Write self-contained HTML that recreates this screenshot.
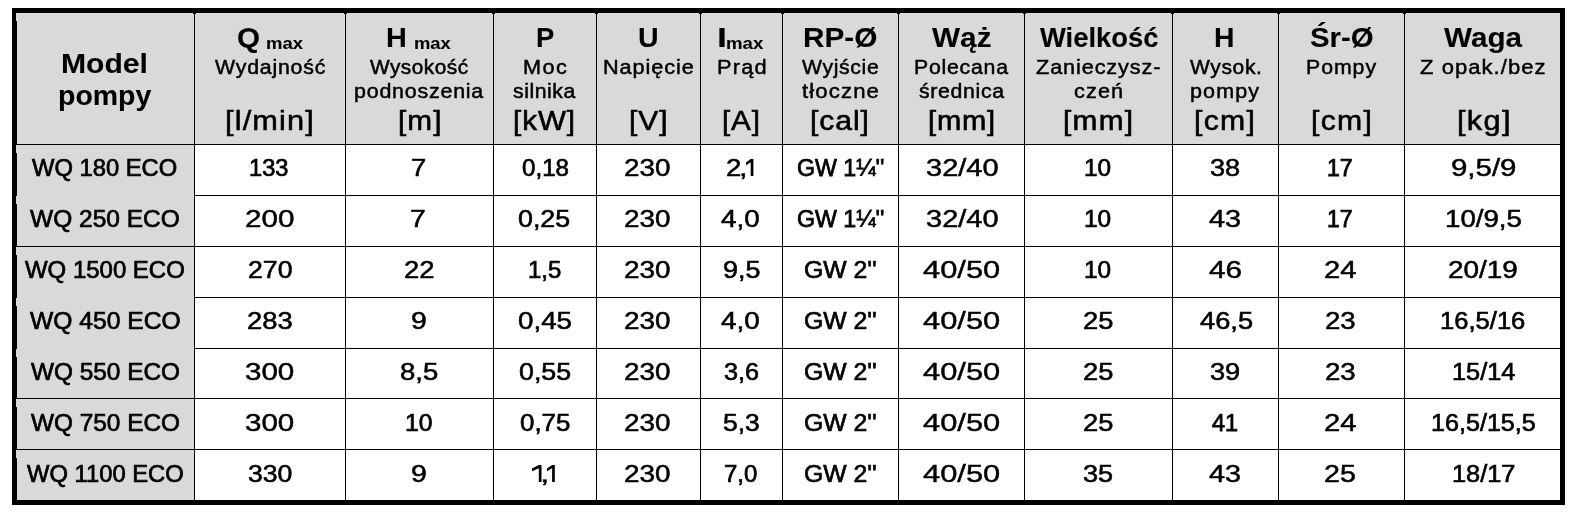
<!DOCTYPE html>
<html><head><meta charset="utf-8"><style>
html,body{margin:0;padding:0;background:#fff;width:1593px;height:517px;overflow:hidden;position:relative}
.r{position:absolute}

.t{position:absolute;white-space:nowrap;font-family:"Liberation Sans",sans-serif;color:#000;line-height:40px;transform-origin:0 0}
.hb{font-weight:bold;font-size:27px}
.hm{font-weight:bold;font-size:17px}
.hr{font-weight:normal;font-size:20px}
.hu{font-weight:normal;font-size:28px}
.b{font-weight:normal;font-size:23px}
.b{-webkit-text-stroke:0.75px #000}
.hu{-webkit-text-stroke:0.7px #000}
.hr{-webkit-text-stroke:0.55px #000}
.hb,.hm{-webkit-text-stroke:0.1px #000}
.t{will-change:transform}

</style></head><body>
<div class="r" style="left:16px;top:13px;width:1544px;height:131px;background:#d9d9d9"></div>
<div class="r" style="left:16px;top:145px;width:178px;height:355px;background:#d9d9d9"></div>
<div class="r" style="left:12px;top:8px;width:1553px;height:5px;background:#000"></div>
<div class="r" style="left:12px;top:500px;width:1553px;height:5px;background:#000"></div>
<div class="r" style="left:12px;top:8px;width:5px;height:497px;background:#000"></div>
<div class="r" style="left:16px;top:13px;width:1px;height:8px;background:#d9d9d9"></div>
<div class="r" style="left:16px;top:145px;width:1px;height:8px;background:#d9d9d9"></div>
<div class="r" style="left:16px;top:196px;width:1px;height:8px;background:#d9d9d9"></div>
<div class="r" style="left:16px;top:247px;width:1px;height:8px;background:#d9d9d9"></div>
<div class="r" style="left:16px;top:298px;width:1px;height:8px;background:#d9d9d9"></div>
<div class="r" style="left:16px;top:349px;width:1px;height:8px;background:#d9d9d9"></div>
<div class="r" style="left:16px;top:399px;width:1px;height:8px;background:#d9d9d9"></div>
<div class="r" style="left:16px;top:450px;width:1px;height:8px;background:#d9d9d9"></div>
<div class="r" style="left:1560px;top:8px;width:5px;height:497px;background:#000"></div>
<div class="r" style="left:194px;top:13px;width:1px;height:487px;background:#000"></div>
<div class="r" style="left:193px;top:13px;width:3px;height:1px;background:#000"></div>
<div class="r" style="left:345px;top:13px;width:1px;height:487px;background:#000"></div>
<div class="r" style="left:344px;top:13px;width:3px;height:1px;background:#000"></div>
<div class="r" style="left:493px;top:13px;width:1px;height:487px;background:#000"></div>
<div class="r" style="left:492px;top:13px;width:3px;height:1px;background:#000"></div>
<div class="r" style="left:596px;top:13px;width:1px;height:487px;background:#000"></div>
<div class="r" style="left:595px;top:13px;width:3px;height:1px;background:#000"></div>
<div class="r" style="left:700px;top:13px;width:1px;height:487px;background:#000"></div>
<div class="r" style="left:699px;top:13px;width:3px;height:1px;background:#000"></div>
<div class="r" style="left:782px;top:13px;width:1px;height:487px;background:#000"></div>
<div class="r" style="left:781px;top:13px;width:3px;height:1px;background:#000"></div>
<div class="r" style="left:898px;top:13px;width:1px;height:487px;background:#000"></div>
<div class="r" style="left:897px;top:13px;width:3px;height:1px;background:#000"></div>
<div class="r" style="left:1024px;top:13px;width:1px;height:487px;background:#000"></div>
<div class="r" style="left:1023px;top:13px;width:3px;height:1px;background:#000"></div>
<div class="r" style="left:1172px;top:13px;width:1px;height:487px;background:#000"></div>
<div class="r" style="left:1171px;top:13px;width:3px;height:1px;background:#000"></div>
<div class="r" style="left:1278px;top:13px;width:1px;height:487px;background:#000"></div>
<div class="r" style="left:1277px;top:13px;width:3px;height:1px;background:#000"></div>
<div class="r" style="left:1404px;top:13px;width:1px;height:487px;background:#000"></div>
<div class="r" style="left:1403px;top:13px;width:3px;height:1px;background:#000"></div>
<div class="r" style="left:16px;top:144px;width:1544px;height:1px;background:#000"></div>
<div class="r" style="left:195px;top:195px;width:1365px;height:1px;background:#000"></div>
<div class="r" style="left:16px;top:246px;width:1544px;height:1px;background:#000"></div>
<div class="r" style="left:195px;top:297px;width:1365px;height:1px;background:#000"></div>
<div class="r" style="left:195px;top:348px;width:1365px;height:1px;background:#000"></div>
<div class="r" style="left:16px;top:398px;width:1544px;height:1px;background:#000"></div>
<div class="r" style="left:16px;top:449px;width:1544px;height:1px;background:#000"></div>
<div class="t hb" style="left:61.17px;top:43.70px;transform:scaleX(1.1149);-webkit-text-stroke-width:0.08px">Model</div>
<div class="t hb" style="left:58.29px;top:75.50px;transform:scaleX(1.0547);-webkit-text-stroke-width:0.08px">pompy</div>
<div class="t hb" style="left:237.00px;top:18.40px;transform:scaleX(1.1000);-webkit-text-stroke-width:0.08px">Q</div>
<div class="t hm" style="left:265.71px;top:23.80px;transform:scaleX(1.0879);-webkit-text-stroke-width:0.08px">max</div>
<div class="t hr" style="left:215.40px;top:46.60px;letter-spacing:0.74px;transform:scaleX(1.0649);-webkit-text-stroke-width:0.48px">Wydajność</div>
<div class="t hu" style="left:225.21px;top:100.60px;letter-spacing:1.04px;transform:scaleX(1.0965);-webkit-text-stroke-width:0.56px">[l/min]</div>
<div class="t hb" style="left:386.16px;top:18.40px;transform:scaleX(1.0687);-webkit-text-stroke-width:0.08px">H</div>
<div class="t hm" style="left:413.92px;top:23.80px;transform:scaleX(1.0818);-webkit-text-stroke-width:0.08px">max</div>
<div class="t hr" style="left:370.20px;top:46.60px;letter-spacing:0.49px;transform:scaleX(1.0390);-webkit-text-stroke-width:0.51px">Wysokość</div>
<div class="t hr" style="left:353.53px;top:71.20px;letter-spacing:0.74px;transform:scaleX(1.0699);-webkit-text-stroke-width:0.47px">podnoszenia</div>
<div class="t hu" style="left:397.68px;top:100.60px;letter-spacing:1.01px;transform:scaleX(1.0614);-webkit-text-stroke-width:0.61px">[m]</div>
<div class="t hb" style="left:535.87px;top:18.40px;transform:scaleX(1.0133)">P</div>
<div class="t hr" style="left:522.62px;top:46.60px;letter-spacing:1.38px;transform:scaleX(1.0833);-webkit-text-stroke-width:0.46px">Moc</div>
<div class="t hr" style="left:512.90px;top:71.20px;letter-spacing:0.53px;transform:scaleX(1.0607);-webkit-text-stroke-width:0.48px">silnika</div>
<div class="t hu" style="left:513.29px;top:100.60px;letter-spacing:0.92px;transform:scaleX(1.0558);-webkit-text-stroke-width:0.62px">[kW]</div>
<div class="t hb" style="left:638.49px;top:18.40px;transform:scaleX(1.0562);-webkit-text-stroke-width:0.08px">U</div>
<div class="t hr" style="left:602.82px;top:46.60px;letter-spacing:0.84px;transform:scaleX(1.0842);-webkit-text-stroke-width:0.46px">Napięcie</div>
<div class="t hu" style="left:628.96px;top:100.60px;letter-spacing:0.98px;transform:scaleX(1.0677);-webkit-text-stroke-width:0.60px">[V]</div>
<div class="t hb" style="left:716.95px;top:18.40px;transform:scaleX(1.3250);-webkit-text-stroke-width:0.08px">I</div>
<div class="t hm" style="left:726.30px;top:23.80px;transform:scaleX(1.0970);-webkit-text-stroke-width:0.08px">max</div>
<div class="t hr" style="left:716.71px;top:46.60px;letter-spacing:1.09px;transform:scaleX(1.0888);-webkit-text-stroke-width:0.45px">Prąd</div>
<div class="t hu" style="left:721.99px;top:100.60px;letter-spacing:0.83px;transform:scaleX(1.0565);-webkit-text-stroke-width:0.61px">[A]</div>
<div class="t hb" style="left:802.90px;top:18.40px;transform:scaleX(1.1016);-webkit-text-stroke-width:0.08px">RP-Ø</div>
<div class="t hr" style="left:802.10px;top:46.60px;letter-spacing:0.63px;transform:scaleX(1.0588);-webkit-text-stroke-width:0.48px">Wyjście</div>
<div class="t hr" style="left:801.60px;top:71.20px;letter-spacing:1.02px;transform:scaleX(1.1071);-webkit-text-stroke-width:0.44px">tłoczne</div>
<div class="t hu" style="left:810.05px;top:100.60px;letter-spacing:0.85px;transform:scaleX(1.0760);-webkit-text-stroke-width:0.59px">[cal]</div>
<div class="t hb" style="left:932.40px;top:18.40px;transform:scaleX(1.1019);-webkit-text-stroke-width:0.08px">Wąż</div>
<div class="t hr" style="left:913.74px;top:46.60px;letter-spacing:0.71px;transform:scaleX(1.0639);-webkit-text-stroke-width:0.48px">Polecana</div>
<div class="t hr" style="left:919.10px;top:71.20px;letter-spacing:0.64px;transform:scaleX(1.0625);-webkit-text-stroke-width:0.48px">średnica</div>
<div class="t hu" style="left:927.82px;top:100.60px;letter-spacing:0.78px;transform:scaleX(1.0415);-webkit-text-stroke-width:0.64px">[mm]</div>
<div class="t hb" style="left:1039.60px;top:18.40px;transform:scaleX(1.0147)">Wielkość</div>
<div class="t hr" style="left:1036.10px;top:46.60px;letter-spacing:0.82px;transform:scaleX(1.0835);-webkit-text-stroke-width:0.46px">Zanieczysz-</div>
<div class="t hr" style="left:1074.30px;top:71.20px;letter-spacing:1.05px;transform:scaleX(1.0829);-webkit-text-stroke-width:0.46px">czeń</div>
<div class="t hu" style="left:1063.37px;top:100.60px;letter-spacing:1.19px;transform:scaleX(1.0644);-webkit-text-stroke-width:0.60px">[mm]</div>
<div class="t hb" style="left:1214.30px;top:18.40px;transform:scaleX(1.0500);-webkit-text-stroke-width:0.08px">H</div>
<div class="t hr" style="left:1190.00px;top:46.60px;letter-spacing:0.61px;transform:scaleX(1.0500);-webkit-text-stroke-width:0.49px">Wysok.</div>
<div class="t hr" style="left:1190.12px;top:71.20px;letter-spacing:1.03px;transform:scaleX(1.0754);-webkit-text-stroke-width:0.47px">pompy</div>
<div class="t hu" style="left:1194.04px;top:100.60px;letter-spacing:1.18px;transform:scaleX(1.0776);-webkit-text-stroke-width:0.58px">[cm]</div>
<div class="t hb" style="left:1309.61px;top:18.40px;transform:scaleX(1.0875);-webkit-text-stroke-width:0.08px">Śr-Ø</div>
<div class="t hr" style="left:1305.84px;top:46.60px;letter-spacing:0.91px;transform:scaleX(1.0631);-webkit-text-stroke-width:0.48px">Pompy</div>
<div class="t hu" style="left:1311.04px;top:100.60px;letter-spacing:1.18px;transform:scaleX(1.0776);-webkit-text-stroke-width:0.58px">[cm]</div>
<div class="t hb" style="left:1444.00px;top:18.40px;transform:scaleX(1.0986);-webkit-text-stroke-width:0.08px">Waga</div>
<div class="t hr" style="left:1420.10px;top:46.60px;letter-spacing:0.95px;transform:scaleX(1.1010);-webkit-text-stroke-width:0.44px">Z opak./bez</div>
<div class="t hu" style="left:1456.90px;top:100.60px;letter-spacing:1.21px;transform:scaleX(1.0976);-webkit-text-stroke-width:0.56px">[kg]</div>
<div class="t b" style="left:31.80px;top:148.00px;transform:scaleX(1.0329);-webkit-text-stroke-width:0.71px">WQ 180 ECO</div>
<div class="t b" style="left:249.07px;top:148.00px;transform:scaleX(1.0270);-webkit-text-stroke-width:0.71px">133</div>
<div class="t b" style="left:411.21px;top:148.00px;transform:scaleX(1.1909);-webkit-text-stroke-width:0.53px">7</div>
<div class="t b" style="left:521.50px;top:148.00px;transform:scaleX(1.0500);-webkit-text-stroke-width:0.68px">0,18</div>
<div class="t b" style="left:624.39px;top:148.00px;transform:scaleX(1.2108);-webkit-text-stroke-width:0.51px">230</div>
<div class="t b" style="left:725.60px;top:148.00px;transform:scaleX(1.2000);-webkit-text-stroke-width:0.52px">2</div>
<div class="t b" style="left:739.33px;top:148.00px;transform:scaleX(1.3333);-webkit-text-stroke-width:0.41px">,</div>
<svg class="r" style="left:746.40px;top:159.10px" width="7.40" height="17.0" viewBox="0 0 7.40 17.0"><polygon points="0,3.6 4.70,0 7.40,0 7.40,17.0 4.70,17.0 4.70,3.2 0,6.2" fill="#000"/></svg>
<div class="t b" style="left:796.69px;top:148.00px;transform:scaleX(1.0082)">GW 1¼''</div>
<div class="t b" style="left:925.60px;top:148.00px;transform:scaleX(1.2614);-webkit-text-stroke-width:0.47px">32/40</div>
<div class="t b" style="left:1083.94px;top:148.00px;transform:scaleX(1.0583);-webkit-text-stroke-width:0.67px">10</div>
<div class="t b" style="left:1209.80px;top:148.00px;transform:scaleX(1.1800);-webkit-text-stroke-width:0.54px">38</div>
<div class="t b" style="left:1327.41px;top:148.00px;letter-spacing:0.00px;transform:scaleX(0.9875)">17</div>
<div class="t b" style="left:1450.52px;top:148.00px;transform:scaleX(1.2796);-webkit-text-stroke-width:0.45px">9,5/9</div>
<div class="t b" style="left:29.90px;top:199.03px;transform:scaleX(1.0657);-webkit-text-stroke-width:0.67px">WQ 250 ECO</div>
<div class="t b" style="left:244.91px;top:199.03px;transform:scaleX(1.2892);-webkit-text-stroke-width:0.44px">200</div>
<div class="t b" style="left:409.97px;top:199.03px;transform:scaleX(1.2273);-webkit-text-stroke-width:0.50px">7</div>
<div class="t b" style="left:518.20px;top:199.03px;transform:scaleX(1.1659);-webkit-text-stroke-width:0.55px">0,25</div>
<div class="t b" style="left:624.39px;top:199.03px;transform:scaleX(1.2108);-webkit-text-stroke-width:0.51px">230</div>
<div class="t b" style="left:721.20px;top:199.03px;transform:scaleX(1.2094);-webkit-text-stroke-width:0.51px">4,0</div>
<div class="t b" style="left:796.69px;top:199.03px;transform:scaleX(1.0082)">GW 1¼''</div>
<div class="t b" style="left:925.60px;top:199.03px;transform:scaleX(1.2614);-webkit-text-stroke-width:0.47px">32/40</div>
<div class="t b" style="left:1083.94px;top:199.03px;transform:scaleX(1.0583);-webkit-text-stroke-width:0.67px">10</div>
<div class="t b" style="left:1208.70px;top:199.03px;transform:scaleX(1.2520);-webkit-text-stroke-width:0.47px">43</div>
<div class="t b" style="left:1327.41px;top:199.03px;letter-spacing:0.00px;transform:scaleX(0.9875)">17</div>
<div class="t b" style="left:1444.80px;top:199.03px;transform:scaleX(1.2032);-webkit-text-stroke-width:0.52px">10/9,5</div>
<div class="t b" style="left:25.20px;top:250.06px;transform:scaleX(1.0418);-webkit-text-stroke-width:0.69px">WQ 1500 ECO</div>
<div class="t b" style="left:247.64px;top:250.06px;transform:scaleX(1.1595);-webkit-text-stroke-width:0.56px">270</div>
<div class="t b" style="left:404.11px;top:250.06px;transform:scaleX(1.1917);-webkit-text-stroke-width:0.53px">22</div>
<div class="t b" style="left:528.16px;top:250.06px;transform:scaleX(1.0400);-webkit-text-stroke-width:0.70px">1,5</div>
<div class="t b" style="left:624.39px;top:250.06px;transform:scaleX(1.2108);-webkit-text-stroke-width:0.51px">230</div>
<div class="t b" style="left:722.83px;top:250.06px;transform:scaleX(1.1700);-webkit-text-stroke-width:0.55px">9,5</div>
<div class="t b" style="left:803.82px;top:250.06px;transform:scaleX(1.0758);-webkit-text-stroke-width:0.65px">GW 2''</div>
<div class="t b" style="left:922.90px;top:250.06px;transform:scaleX(1.3421);-webkit-text-stroke-width:0.40px">40/50</div>
<div class="t b" style="left:1083.94px;top:250.06px;transform:scaleX(1.0583);-webkit-text-stroke-width:0.67px">10</div>
<div class="t b" style="left:1208.70px;top:250.06px;transform:scaleX(1.2920);-webkit-text-stroke-width:0.44px">46</div>
<div class="t b" style="left:1323.73px;top:250.06px;transform:scaleX(1.2708);-webkit-text-stroke-width:0.46px">24</div>
<div class="t b" style="left:1448.19px;top:250.06px;transform:scaleX(1.2107);-webkit-text-stroke-width:0.51px">20/19</div>
<div class="t b" style="left:29.90px;top:301.09px;transform:scaleX(1.0714);-webkit-text-stroke-width:0.66px">WQ 450 ECO</div>
<div class="t b" style="left:246.51px;top:301.09px;transform:scaleX(1.1892);-webkit-text-stroke-width:0.53px">283</div>
<div class="t b" style="left:410.66px;top:301.09px;transform:scaleX(1.2364);-webkit-text-stroke-width:0.49px">9</div>
<div class="t b" style="left:518.20px;top:301.09px;transform:scaleX(1.2068);-webkit-text-stroke-width:0.51px">0,45</div>
<div class="t b" style="left:624.39px;top:301.09px;transform:scaleX(1.2108);-webkit-text-stroke-width:0.51px">230</div>
<div class="t b" style="left:721.20px;top:301.09px;transform:scaleX(1.2094);-webkit-text-stroke-width:0.51px">4,0</div>
<div class="t b" style="left:803.82px;top:301.09px;transform:scaleX(1.0758);-webkit-text-stroke-width:0.65px">GW 2''</div>
<div class="t b" style="left:922.90px;top:301.09px;transform:scaleX(1.3421);-webkit-text-stroke-width:0.40px">40/50</div>
<div class="t b" style="left:1083.11px;top:301.09px;transform:scaleX(1.1875);-webkit-text-stroke-width:0.53px">25</div>
<div class="t b" style="left:1199.60px;top:301.09px;transform:scaleX(1.1864);-webkit-text-stroke-width:0.53px">46,5</div>
<div class="t b" style="left:1324.50px;top:301.09px;transform:scaleX(1.2000);-webkit-text-stroke-width:0.52px">23</div>
<div class="t b" style="left:1440.49px;top:301.09px;transform:scaleX(1.1120);-webkit-text-stroke-width:0.61px">16,5/16</div>
<div class="t b" style="left:30.70px;top:352.12px;transform:scaleX(1.0600);-webkit-text-stroke-width:0.67px">WQ 550 ECO</div>
<div class="t b" style="left:245.10px;top:352.12px;transform:scaleX(1.2842);-webkit-text-stroke-width:0.45px">300</div>
<div class="t b" style="left:399.70px;top:352.12px;transform:scaleX(1.1967);-webkit-text-stroke-width:0.52px">8,5</div>
<div class="t b" style="left:518.90px;top:352.12px;transform:scaleX(1.1659);-webkit-text-stroke-width:0.55px">0,55</div>
<div class="t b" style="left:624.39px;top:352.12px;transform:scaleX(1.2108);-webkit-text-stroke-width:0.51px">230</div>
<div class="t b" style="left:724.00px;top:352.12px;transform:scaleX(1.0968);-webkit-text-stroke-width:0.63px">3,6</div>
<div class="t b" style="left:803.82px;top:352.12px;transform:scaleX(1.0758);-webkit-text-stroke-width:0.65px">GW 2''</div>
<div class="t b" style="left:922.90px;top:352.12px;transform:scaleX(1.3421);-webkit-text-stroke-width:0.40px">40/50</div>
<div class="t b" style="left:1083.11px;top:352.12px;transform:scaleX(1.1875);-webkit-text-stroke-width:0.53px">25</div>
<div class="t b" style="left:1209.80px;top:352.12px;transform:scaleX(1.1800);-webkit-text-stroke-width:0.54px">39</div>
<div class="t b" style="left:1324.50px;top:352.12px;transform:scaleX(1.2000);-webkit-text-stroke-width:0.52px">23</div>
<div class="t b" style="left:1451.70px;top:352.12px;transform:scaleX(1.1018);-webkit-text-stroke-width:0.62px">15/14</div>
<div class="t b" style="left:30.70px;top:403.15px;transform:scaleX(1.0600);-webkit-text-stroke-width:0.67px">WQ 750 ECO</div>
<div class="t b" style="left:245.10px;top:403.15px;transform:scaleX(1.2842);-webkit-text-stroke-width:0.45px">300</div>
<div class="t b" style="left:405.33px;top:403.15px;transform:scaleX(1.0708);-webkit-text-stroke-width:0.66px">10</div>
<div class="t b" style="left:520.00px;top:403.15px;transform:scaleX(1.1250);-webkit-text-stroke-width:0.60px">0,75</div>
<div class="t b" style="left:624.39px;top:403.15px;transform:scaleX(1.2108);-webkit-text-stroke-width:0.51px">230</div>
<div class="t b" style="left:722.85px;top:403.15px;transform:scaleX(1.1500);-webkit-text-stroke-width:0.57px">5,3</div>
<div class="t b" style="left:803.82px;top:403.15px;transform:scaleX(1.0758);-webkit-text-stroke-width:0.65px">GW 2''</div>
<div class="t b" style="left:922.90px;top:403.15px;transform:scaleX(1.3421);-webkit-text-stroke-width:0.40px">40/50</div>
<div class="t b" style="left:1083.11px;top:403.15px;transform:scaleX(1.1875);-webkit-text-stroke-width:0.53px">25</div>
<div class="t b" style="left:1212.10px;top:403.15px;transform:scaleX(1.0200)">41</div>
<div class="t b" style="left:1323.73px;top:403.15px;transform:scaleX(1.2708);-webkit-text-stroke-width:0.46px">24</div>
<div class="t b" style="left:1431.41px;top:403.15px;transform:scaleX(1.0926);-webkit-text-stroke-width:0.63px">16,5/15,5</div>
<div class="t b" style="left:26.70px;top:454.18px;transform:scaleX(1.0331);-webkit-text-stroke-width:0.71px">WQ 1100 ECO</div>
<div class="t b" style="left:247.70px;top:454.18px;transform:scaleX(1.1579);-webkit-text-stroke-width:0.56px">330</div>
<div class="t b" style="left:410.66px;top:454.18px;transform:scaleX(1.2364);-webkit-text-stroke-width:0.49px">9</div>
<svg class="r" style="left:532.10px;top:465.28px" width="9.50" height="17.0" viewBox="0 0 9.50 17.0"><polygon points="0,3.6 6.80,0 9.50,0 9.50,17.0 6.80,17.0 6.80,3.2 0,6.2" fill="#000"/></svg>
<div class="t b" style="left:539.97px;top:454.18px;transform:scaleX(1.4667);-webkit-text-stroke-width:0.40px">,</div>
<svg class="r" style="left:547.30px;top:465.28px" width="7.80" height="17.0" viewBox="0 0 7.80 17.0"><polygon points="0,3.6 5.10,0 7.80,0 7.80,17.0 5.10,17.0 5.10,3.2 0,6.2" fill="#000"/></svg>
<div class="t b" style="left:624.39px;top:454.18px;transform:scaleX(1.2108);-webkit-text-stroke-width:0.51px">230</div>
<div class="t b" style="left:723.76px;top:454.18px;transform:scaleX(1.0419);-webkit-text-stroke-width:0.69px">7,0</div>
<div class="t b" style="left:803.82px;top:454.18px;transform:scaleX(1.0758);-webkit-text-stroke-width:0.65px">GW 2''</div>
<div class="t b" style="left:922.90px;top:454.18px;transform:scaleX(1.3421);-webkit-text-stroke-width:0.40px">40/50</div>
<div class="t b" style="left:1083.30px;top:454.18px;transform:scaleX(1.1800);-webkit-text-stroke-width:0.54px">35</div>
<div class="t b" style="left:1208.70px;top:454.18px;transform:scaleX(1.2520);-webkit-text-stroke-width:0.47px">43</div>
<div class="t b" style="left:1324.46px;top:454.18px;transform:scaleX(1.2417);-webkit-text-stroke-width:0.48px">25</div>
<div class="t b" style="left:1451.70px;top:454.18px;transform:scaleX(1.1018);-webkit-text-stroke-width:0.62px">18/17</div>
</body></html>
